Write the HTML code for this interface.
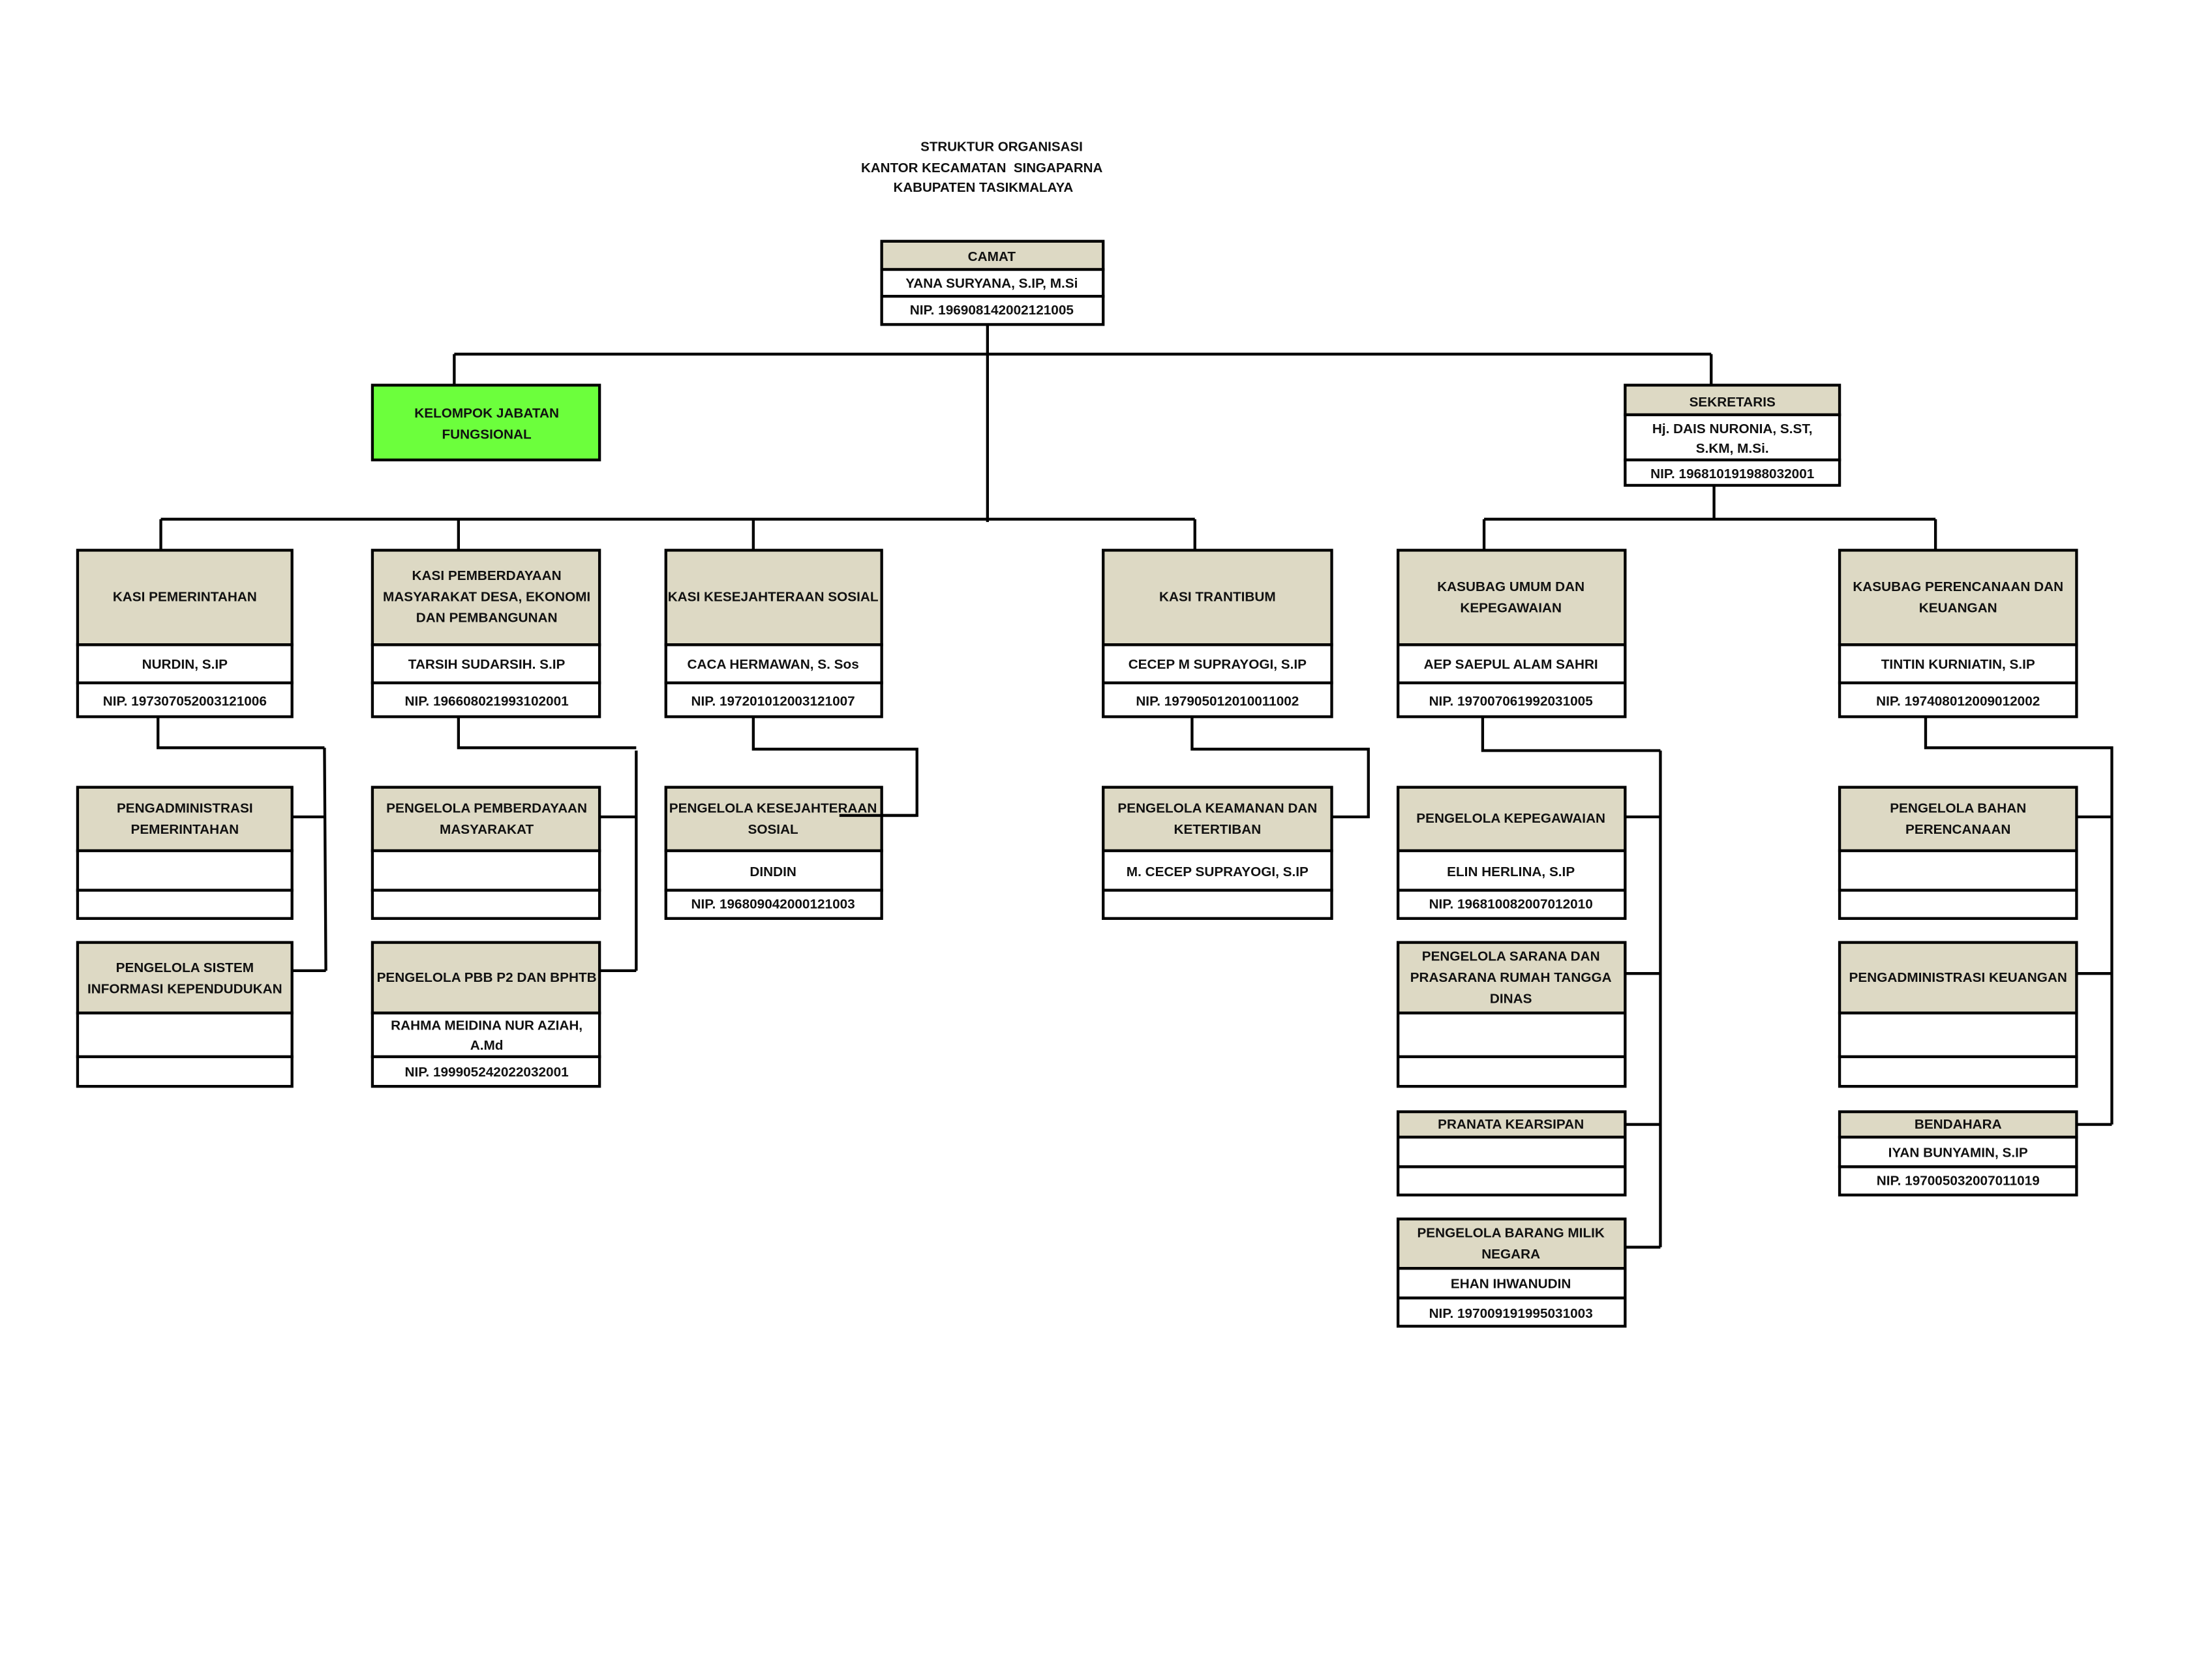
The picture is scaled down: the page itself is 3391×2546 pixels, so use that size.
<!DOCTYPE html>
<html><head><meta charset="utf-8">
<style>
html,body{margin:0;padding:0;background:#fff;}
svg{display:block;}
text{font-family:"Liberation Sans",sans-serif;text-anchor:middle;fill:#111;}
.h{font-size:9.6px;font-weight:600;}
.n{font-size:9.6px;font-weight:bold;}
.t{font-size:9.5px;font-weight:bold;}
.hd{fill:#ddd9c4;stroke:#000;stroke-width:2;}
.w{fill:#fff;stroke:#000;stroke-width:2;}
.l{fill:none;stroke:#000;stroke-width:2;}
</style></head><body>
<svg width="3391" height="2546" viewBox="0 0 1568 1177.3" preserveAspectRatio="none" xmlns="http://www.w3.org/2000/svg">
<!-- title -->
<text class="t" x="710" y="107">STRUKTUR ORGANISASI</text>
<text class="t" x="696" y="122" xml:space="preserve">KANTOR KECAMATAN  SINGAPARNA</text>
<text class="t" x="697" y="136">KABUPATEN TASIKMALAYA</text>

<!-- connectors -->
<path class="l" d="M700 230 V370 M322 251 H1213 M322 251 V273 M1213 251 V273"/>
<path class="l" d="M114 368 H847 M114 368 V390 M325 368 V390 M534 368 V390 M847 368 V390"/>
<path class="l" d="M1215 344 V368 M1052 368 H1372 M1052 368 V390 M1372 368 V390"/>
<path class="l" d="M112 508 V530 H230 M230 530 L231 688 M207 579 H231 M207 688 H231"/>
<path class="l" d="M325 508 V530 H451 M451 532 V688 M425 579 H451 M425 688 H451"/>
<path class="l" d="M534 508 V531 H650 V578 H595"/>
<path class="l" d="M845 508 V531 H970 V579 H944"/>
<path class="l" d="M1051 508 V532 H1177 M1177 532 V884 M1152 579 H1177 M1152 690 H1177 M1152 797 H1177 M1152 884 H1177"/>
<path class="l" d="M1365 508 V530 H1497 V797 M1472 579 H1497 M1472 690 H1497 M1472 797 H1497"/>

<!-- CAMAT -->
<rect class="hd" x="625" y="171" width="157" height="20"/>
<rect class="w" x="625" y="191" width="157" height="19"/>
<rect class="w" x="625" y="210" width="157" height="20"/>
<text class="h" x="703" y="185">CAMAT</text>
<text class="n" x="703" y="204">YANA SURYANA, S.IP, M.Si</text>
<text class="n" x="703" y="223">NIP. 196908142002121005</text>

<!-- Kelompok -->
<rect x="264" y="273" width="161" height="53" fill="#6cff3c" stroke="#000" stroke-width="2"/>
<text class="h" x="345" y="296">KELOMPOK JABATAN</text>
<text class="h" x="345" y="311">FUNGSIONAL</text>

<!-- Sekretaris -->
<rect class="hd" x="1152" y="273" width="152" height="21"/>
<rect class="w" x="1152" y="294" width="152" height="32"/>
<rect class="w" x="1152" y="326" width="152" height="18"/>
<text class="h" x="1228" y="288">SEKRETARIS</text>
<text class="n" x="1228" y="307">Hj. DAIS NURONIA, S.ST,</text>
<text class="n" x="1228" y="321">S.KM, M.Si.</text>
<text class="n" x="1228" y="339">NIP. 196810191988032001</text>

<!-- Level 3 -->
<g>
<rect class="hd" x="55" y="390" width="152" height="67"/><rect class="w" x="55" y="457" width="152" height="27"/><rect class="w" x="55" y="484" width="152" height="24"/>
<text class="h" x="131" y="426">KASI PEMERINTAHAN</text>
<text class="n" x="131" y="474">NURDIN, S.IP</text>
<text class="n" x="131" y="500">NIP. 197307052003121006</text>

<rect class="hd" x="264" y="390" width="161" height="67"/><rect class="w" x="264" y="457" width="161" height="27"/><rect class="w" x="264" y="484" width="161" height="24"/>
<text class="h" x="345" y="411">KASI PEMBERDAYAAN</text>
<text class="h" x="345" y="426">MASYARAKAT DESA, EKONOMI</text>
<text class="h" x="345" y="441">DAN PEMBANGUNAN</text>
<text class="n" x="345" y="474">TARSIH SUDARSIH. S.IP</text>
<text class="n" x="345" y="500">NIP. 196608021993102001</text>

<rect class="hd" x="472" y="390" width="153" height="67"/><rect class="w" x="472" y="457" width="153" height="27"/><rect class="w" x="472" y="484" width="153" height="24"/>
<text class="h" x="548" y="426">KASI KESEJAHTERAAN SOSIAL</text>
<text class="n" x="548" y="474">CACA HERMAWAN, S. Sos</text>
<text class="n" x="548" y="500">NIP. 197201012003121007</text>

<rect class="hd" x="782" y="390" width="162" height="67"/><rect class="w" x="782" y="457" width="162" height="27"/><rect class="w" x="782" y="484" width="162" height="24"/>
<text class="h" x="863" y="426">KASI TRANTIBUM</text>
<text class="n" x="863" y="474">CECEP M SUPRAYOGI, S.IP</text>
<text class="n" x="863" y="500">NIP. 197905012010011002</text>

<rect class="hd" x="991" y="390" width="161" height="67"/><rect class="w" x="991" y="457" width="161" height="27"/><rect class="w" x="991" y="484" width="161" height="24"/>
<text class="h" x="1071" y="419">KASUBAG UMUM DAN</text>
<text class="h" x="1071" y="434">KEPEGAWAIAN</text>
<text class="n" x="1071" y="474">AEP SAEPUL ALAM SAHRI</text>
<text class="n" x="1071" y="500">NIP. 197007061992031005</text>

<rect class="hd" x="1304" y="390" width="168" height="67"/><rect class="w" x="1304" y="457" width="168" height="27"/><rect class="w" x="1304" y="484" width="168" height="24"/>
<text class="h" x="1388" y="419">KASUBAG PERENCANAAN DAN</text>
<text class="h" x="1388" y="434">KEUANGAN</text>
<text class="n" x="1388" y="474">TINTIN KURNIATIN, S.IP</text>
<text class="n" x="1388" y="500">NIP. 197408012009012002</text>
</g>

<!-- Col1 subs -->
<rect class="hd" x="55" y="558" width="152" height="45"/><rect class="w" x="55" y="603" width="152" height="28"/><rect class="w" x="55" y="631" width="152" height="20"/>
<text class="h" x="131" y="576">PENGADMINISTRASI</text>
<text class="h" x="131" y="591">PEMERINTAHAN</text>
<rect class="hd" x="55" y="668" width="152" height="50"/><rect class="w" x="55" y="718" width="152" height="31"/><rect class="w" x="55" y="749" width="152" height="21"/>
<text class="h" x="131" y="689">PENGELOLA SISTEM</text>
<text class="h" x="131" y="704">INFORMASI KEPENDUDUKAN</text>

<!-- Col2 subs -->
<rect class="hd" x="264" y="558" width="161" height="45"/><rect class="w" x="264" y="603" width="161" height="28"/><rect class="w" x="264" y="631" width="161" height="20"/>
<text class="h" x="345" y="576">PENGELOLA PEMBERDAYAAN</text>
<text class="h" x="345" y="591">MASYARAKAT</text>
<rect class="hd" x="264" y="668" width="161" height="50"/><rect class="w" x="264" y="718" width="161" height="31"/><rect class="w" x="264" y="749" width="161" height="21"/>
<text class="h" x="345" y="696">PENGELOLA PBB P2 DAN BPHTB</text>
<text class="n" x="345" y="730">RAHMA MEIDINA NUR AZIAH,</text>
<text class="n" x="345" y="744">A.Md</text>
<text class="n" x="345" y="763">NIP. 199905242022032001</text>

<!-- Col3 -->
<rect class="hd" x="472" y="558" width="153" height="45"/><rect class="w" x="472" y="603" width="153" height="28"/><rect class="w" x="472" y="631" width="153" height="20"/>
<text class="h" x="548" y="576">PENGELOLA KESEJAHTERAAN</text>
<text class="h" x="548" y="591">SOSIAL</text>
<path class="l" d="M595 578 H650"/>
<text class="n" x="548" y="621">DINDIN</text>
<text class="n" x="548" y="644">NIP. 196809042000121003</text>

<!-- Col4 -->
<rect class="hd" x="782" y="558" width="162" height="45"/><rect class="w" x="782" y="603" width="162" height="28"/><rect class="w" x="782" y="631" width="162" height="20"/>
<text class="h" x="863" y="576">PENGELOLA KEAMANAN DAN</text>
<text class="h" x="863" y="591">KETERTIBAN</text>
<text class="n" x="863" y="621">M. CECEP SUPRAYOGI, S.IP</text>

<!-- Col5 -->
<rect class="hd" x="991" y="558" width="161" height="45"/><rect class="w" x="991" y="603" width="161" height="28"/><rect class="w" x="991" y="631" width="161" height="20"/>
<text class="h" x="1071" y="583">PENGELOLA KEPEGAWAIAN</text>
<text class="n" x="1071" y="621">ELIN HERLINA, S.IP</text>
<text class="n" x="1071" y="644">NIP. 196810082007012010</text>
<rect class="hd" x="991" y="668" width="161" height="50"/><rect class="w" x="991" y="718" width="161" height="31"/><rect class="w" x="991" y="749" width="161" height="21"/>
<text class="h" x="1071" y="681">PENGELOLA SARANA DAN</text>
<text class="h" x="1071" y="696">PRASARANA RUMAH TANGGA</text>
<text class="h" x="1071" y="711">DINAS</text>
<rect class="hd" x="991" y="788" width="161" height="18"/><rect class="w" x="991" y="806" width="161" height="21"/><rect class="w" x="991" y="827" width="161" height="20"/>
<text class="h" x="1071" y="800">PRANATA KEARSIPAN</text>
<rect class="hd" x="991" y="864" width="161" height="35"/><rect class="w" x="991" y="899" width="161" height="21"/><rect class="w" x="991" y="920" width="161" height="20"/>
<text class="h" x="1071" y="877">PENGELOLA BARANG MILIK</text>
<text class="h" x="1071" y="892">NEGARA</text>
<text class="n" x="1071" y="913">EHAN IHWANUDIN</text>
<text class="n" x="1071" y="934">NIP. 197009191995031003</text>

<!-- Col6 -->
<rect class="hd" x="1304" y="558" width="168" height="45"/><rect class="w" x="1304" y="603" width="168" height="28"/><rect class="w" x="1304" y="631" width="168" height="20"/>
<text class="h" x="1388" y="576">PENGELOLA BAHAN</text>
<text class="h" x="1388" y="591">PERENCANAAN</text>
<rect class="hd" x="1304" y="668" width="168" height="50"/><rect class="w" x="1304" y="718" width="168" height="31"/><rect class="w" x="1304" y="749" width="168" height="21"/>
<text class="h" x="1388" y="696">PENGADMINISTRASI KEUANGAN</text>
<rect class="hd" x="1304" y="788" width="168" height="18"/><rect class="w" x="1304" y="806" width="168" height="21"/><rect class="w" x="1304" y="827" width="168" height="20"/>
<text class="h" x="1388" y="800">BENDAHARA</text>
<text class="n" x="1388" y="820">IYAN BUNYAMIN, S.IP</text>
<text class="n" x="1388" y="840">NIP. 197005032007011019</text>
</svg>
</body></html>
